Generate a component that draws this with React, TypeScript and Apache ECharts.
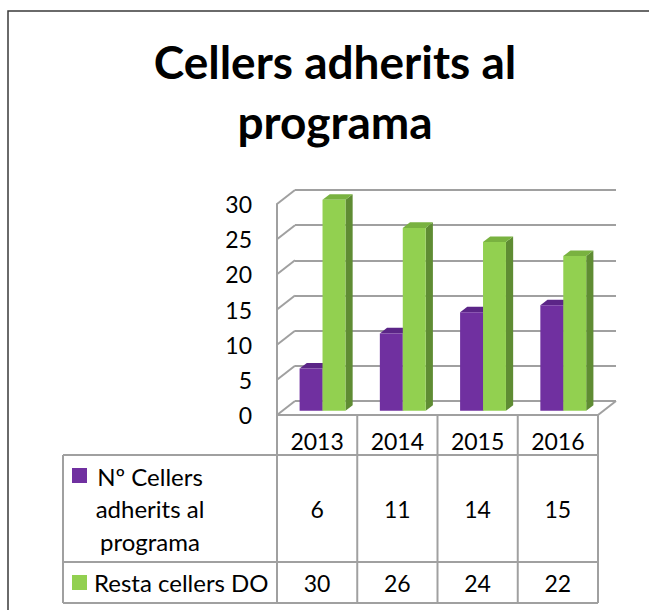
import React, { useEffect, useRef } from 'react';
import * as echarts from 'echarts';

// ---- data ----
const categories = ['2013', '2014', '2015', '2016'];
const cellersAdherits = [6, 11, 14, 15];
const restaCellers = [30, 26, 24, 22];
const seriesNames = ['Nº Cellers adherits al programa', 'Resta cellers DO'];
const seriesTableLabels = ['Nº Cellers\nadherits al\nprograma', 'Resta cellers DO'];
const yTickValues = [0, 5, 10, 15, 20, 25, 30];
const yMin = 0;
const yMax = 30;
const yInterval = 5;
const titleText = 'Cellers adherits al\nprograma';

// ---- layout / style ----
const FRONT = { left: 277, top: 204, width: 321, height: 211 };
const DX = 18;
const DY = -14;
const GRID_COLOR = '#A0A0A0';
const FONT = 'Lato, "Noto Sans", sans-serif';
const COLORS = [
  { front: '#7030A0', side: '#4F1F74', top: '#5B2587' },
  { front: '#92D050', side: '#5F8C33', top: '#79B240' },
];
const TABLE = { left: 63, headerBottom: 455, row1Bottom: 562, row2Bottom: 603 };

export default function App() {
  const ref = useRef<HTMLDivElement>(null);

  useEffect(() => {
    document.body.style.margin = '0';
    if (!ref.current) return;
    const chart = echarts.init(ref.current, undefined, { renderer: 'svg' });

    const barSeries = [cellersAdherits, restaCellers].map((vals, k) => ({
      type: 'custom',
      name: seriesNames[k],
      xAxisIndex: 0,
      yAxisIndex: 0,
      z: 5,
      data: vals.map((v, i) => [i, v]),
      encode: { x: 0, y: 1 },
      renderItem: (params: any, api: any) => {
        const ci = api.value(0);
        const v = api.value(1);
        const band = api.size([1, 0])[0];
        const base = api.coord([ci, 0]);
        const topP = api.coord([ci, v]);
        const w = band / 3.5;
        const f0 = 0.3;
        const dd = 0.4;
        const fx = base[0] - w + k * w + DX * f0;
        const fb = base[1] + DY * f0;
        const ft = topP[1] + DY * f0;
        const ddx = DX * dd;
        const ddy = DY * dd;
        const c = COLORS[k];
        return {
          type: 'group',
          children: [
            {
              type: 'polygon',
              shape: { points: [[fx + w, fb], [fx + w, ft], [fx + w + ddx, ft + ddy], [fx + w + ddx, fb + ddy]] },
              style: { fill: c.side },
            },
            {
              type: 'polygon',
              shape: { points: [[fx, ft], [fx + w, ft], [fx + w + ddx, ft + ddy], [fx + ddx, ft + ddy]] },
              style: { fill: c.top },
            },
            {
              type: 'rect',
              shape: { x: fx, y: ft, width: w, height: fb - ft },
              style: { fill: c.front },
            },
          ],
        };
      },
    }));

    const wallSeries = {
      type: 'custom',
      name: 'wall',
      xAxisIndex: 0,
      yAxisIndex: 0,
      z: 2,
      silent: true,
      data: yTickValues.map((v) => [0, v]),
      encode: { x: 0, y: 1 },
      renderItem: (params: any, api: any) => {
        const band = api.size([1, 0])[0];
        const p = api.coord([0, api.value(1)]);
        const x = p[0] - band / 2;
        const children: any[] = [
          {
            type: 'line',
            shape: { x1: x, y1: p[1], x2: x + DX, y2: p[1] + DY },
            style: { stroke: GRID_COLOR, lineWidth: 2 },
          },
        ];
        if (api.value(1) === yMin) {
          const last = api.coord([categories.length - 1, yMin]);
          const rx = last[0] + band / 2;
          children.push({
            type: 'line',
            shape: { x1: rx, y1: last[1], x2: rx + DX, y2: last[1] + DY },
            style: { stroke: GRID_COLOR, lineWidth: 2 },
          });
        }
        return { type: 'group', children };
      },
    };

    const tableSeries = {
      type: 'custom',
      name: 'table',
      xAxisIndex: 0,
      yAxisIndex: 0,
      z: 3,
      silent: true,
      data: categories.map((c, i) => [i, cellersAdherits[i], restaCellers[i]]),
      encode: { x: 0, y: 1 },
      renderItem: (params: any, api: any) => {
        const ci = api.value(0);
        const band = api.size([1, 0])[0];
        const p = api.coord([ci, yMin]);
        const lx = p[0] - band / 2;
        const children: any[] = [
          {
            type: 'line',
            shape: { x1: lx, y1: p[1], x2: lx, y2: TABLE.row2Bottom },
            style: { stroke: GRID_COLOR, lineWidth: 2 },
          },
          {
            type: 'text',
            style: {
              text: String(api.value(1)),
              x: p[0],
              y: (TABLE.headerBottom + TABLE.row1Bottom) / 2,
              textAlign: 'center',
              textVerticalAlign: 'middle',
              font: `23px ${FONT}`,
              fill: '#000',
            },
          },
          {
            type: 'text',
            style: {
              text: String(api.value(2)),
              x: p[0],
              y: (TABLE.row1Bottom + TABLE.row2Bottom) / 2,
              textAlign: 'center',
              textVerticalAlign: 'middle',
              font: `23px ${FONT}`,
              fill: '#000',
            },
          },
        ];
        if (ci === categories.length - 1) {
          const rx = p[0] + band / 2;
          children.push({
            type: 'line',
            shape: { x1: rx, y1: p[1], x2: rx, y2: TABLE.row2Bottom },
            style: { stroke: GRID_COLOR, lineWidth: 2 },
          });
        }
        return { type: 'group', children };
      },
    };

    const tableRight = FRONT.left + FRONT.width;

    const option: any = {
      animation: false,
      backgroundColor: '#fff',
      grid: [
        { left: FRONT.left, top: FRONT.top, width: FRONT.width, height: FRONT.height },
        { left: FRONT.left + DX, top: FRONT.top + DY, width: FRONT.width, height: FRONT.height },
      ],
      xAxis: [
        {
          type: 'category',
          gridIndex: 0,
          data: categories,
          axisLine: { show: true, lineStyle: { color: GRID_COLOR, width: 2 } },
          axisTick: { show: false },
          axisLabel: { margin: 14, fontSize: 23, fontFamily: FONT, color: '#000' },
          splitLine: { show: false },
        },
        {
          type: 'category',
          gridIndex: 1,
          data: categories,
          show: false,
        },
      ],
      yAxis: [
        {
          type: 'value',
          gridIndex: 0,
          min: yMin,
          max: yMax,
          interval: yInterval,
          axisLine: { show: true, lineStyle: { color: GRID_COLOR, width: 2 } },
          axisTick: { show: false },
          axisLabel: { margin: 25, fontSize: 23, fontFamily: FONT, color: '#000' },
          splitLine: { show: false },
        },
        {
          type: 'value',
          gridIndex: 1,
          min: yMin,
          max: yMax,
          interval: yInterval,
          axisLine: { show: false },
          axisTick: { show: false },
          axisLabel: { show: false },
          splitLine: { show: true, lineStyle: { color: GRID_COLOR, width: 2 } },
        },
      ],
      series: [wallSeries, ...barSeries, tableSeries],
      graphic: [
        {
          type: 'polyline',
          shape: { points: [[8, 610], [8, 11], [649, 11]] },
          style: { stroke: '#3A3A3A', lineWidth: 1.5, fill: null },
        },
        {
          type: 'text',
          style: {
            text: titleText,
            x: 335,
            y: 91,
            textAlign: 'center',
            textVerticalAlign: 'middle',
            font: `bold 46px ${FONT}`,
            lineHeight: 60,
            fill: '#000',
          },
        },
        ...[TABLE.headerBottom, TABLE.row1Bottom, TABLE.row2Bottom].map((y) => ({
          type: 'line',
          shape: { x1: TABLE.left, y1: y, x2: tableRight, y2: y },
          style: { stroke: GRID_COLOR, lineWidth: 2 },
        })),
        {
          type: 'line',
          shape: { x1: TABLE.left, y1: TABLE.headerBottom, x2: TABLE.left, y2: TABLE.row2Bottom },
          style: { stroke: GRID_COLOR, lineWidth: 2 },
        },
        {
          type: 'rect',
          shape: { x: 72, y: 468, width: 15, height: 15 },
          style: { fill: COLORS[0].front },
        },
        {
          type: 'text',
          style: {
            text: seriesTableLabels[0],
            x: 150,
            y: (TABLE.headerBottom + TABLE.row1Bottom) / 2,
            textAlign: 'center',
            textVerticalAlign: 'middle',
            font: `24px ${FONT}`,
            lineHeight: 32.5,
            fill: '#000',
          },
        },
        {
          type: 'rect',
          shape: { x: 72, y: 575, width: 15, height: 15 },
          style: { fill: COLORS[1].front },
        },
        {
          type: 'text',
          style: {
            text: seriesTableLabels[1],
            x: 94,
            y: (TABLE.row1Bottom + TABLE.row2Bottom) / 2,
            textAlign: 'left',
            textVerticalAlign: 'middle',
            font: `24px ${FONT}`,
            fill: '#000',
          },
        },
      ],
    };

    chart.setOption(option);
    return () => chart.dispose();
  }, []);

  return <div ref={ref} style={{ width: 649, height: 610 }} />;
}
